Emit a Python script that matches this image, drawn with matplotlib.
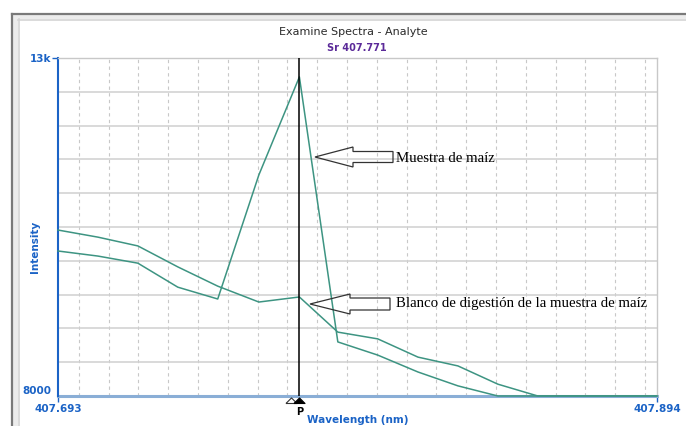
import matplotlib
matplotlib.use('Agg')
import matplotlib.pyplot as plt
import matplotlib.transforms as mtransforms
from matplotlib.patches import Polygon, Rectangle
from matplotlib.lines import Line2D
import numpy as np

# ---------------- data ----------------
wavelength = [407.6930, 407.7064, 407.7198, 407.7332, 407.7466, 407.7604, 407.7740, 407.7869,
              407.8003, 407.8138, 407.8272, 407.8406, 407.8540, 407.8674, 407.8808, 407.8940]
muestra = [10145, 10070, 9965, 9610, 9435, 11270, 12720, 8800,
           8605, 8355, 8150, 8000, 8000, 8000, 8000, 8000]
blanco = [10455, 10350, 10220, 9910, 9625, 9390, 9465, 8945,
          8845, 8575, 8445, 8175, 8000, 8000, 8000, 8000]
peak_wl = 407.7740
x_range = [407.693, 407.894]
x_tick_labels = ['407.693', '407.894']
y_range = [8000, 13000]
y_tick_labels = ['8000', '13k']
x_grid = np.arange(407.70, 407.895, 0.01)
y_grid = np.arange(8500, 13000, 500)

title = 'Examine Spectra - Analyte'
subtitle = 'Sr 407.771'
x_label = 'Wavelength (nm)'
y_label = 'Intensity'
note_sample = 'Muestra de maíz'
note_blank = 'Blanco de digestión de la muestra de maíz'

# ---------------- figure ----------------
W, H = 686, 426
fig = plt.figure(figsize=(W / 100, H / 100), dpi=100)
fig.patch.set_facecolor('white')

blue = '#1b63c6'
teal = '#3d9482'

# background / window frame (pixel coords)
bg = fig.add_axes([0, 0, 1, 1], zorder=0)
bg.set_xlim(0, W)
bg.set_ylim(H, 0)
bg.axis('off')
bg.add_patch(Rectangle((12, 14), W - 12, H - 14, facecolor='#ececec', edgecolor='none'))
bg.add_patch(Rectangle((18, 19), W - 18, H - 19, facecolor='white', edgecolor='none'))
bg.add_line(Line2D([12, W], [14, 14], color='#7a7a7a', lw=1.6))
bg.add_line(Line2D([12, 12], [14, H], color='#7a7a7a', lw=1.6))
bg.add_line(Line2D([18, W], [19.5, 19.5], color='#d4d4d4', lw=1.2))
bg.add_line(Line2D([18.5, 18.5], [19, H], color='#d4d4d4', lw=1.2))

bg.text(353, 32, title, ha='center', va='center', fontsize=8, color='#2a2a2a',
        family='DejaVu Sans')
bg.text(357, 48, subtitle, ha='center', va='center', fontsize=7, color='#5b2a99',
        fontweight='bold', family='DejaVu Sans')

# main axes
L, R, T, B = 58, 657, 58, 396
ax = fig.add_axes([L / W, 1 - B / H, (R - L) / W, (B - T) / H], zorder=1)
ax.set_facecolor('none')
ax.set_xlim(*x_range)
ax.set_ylim(*y_range)

for xv in x_grid:
    ax.axvline(xv, color='#c8c8c8', lw=0.8, ls=(0, (3, 3)), zorder=1)
for yv in y_grid:
    ax.axhline(yv, color='#d0d0d0', lw=1.1, zorder=1)

ax.plot(wavelength, blanco, color=teal, lw=1.1, zorder=3, clip_on=False)
ax.plot(wavelength, muestra, color=teal, lw=1.1, zorder=3, clip_on=False)
ax.axvline(peak_wl, color='black', lw=1.1, zorder=4)

for s in ['top', 'right']:
    ax.spines[s].set_color('#c8c8c8')
    ax.spines[s].set_linewidth(1.0)
ax.spines['left'].set_color(blue)
ax.spines['left'].set_linewidth(1.5)
ax.spines['bottom'].set_color('#8aaed6')
ax.spines['bottom'].set_linewidth(2.2)
ax.spines['bottom'].set_zorder(2)

ax.set_xticks(x_range, labels=x_tick_labels)
ax.set_yticks(y_range, labels=y_tick_labels)
ax.tick_params(axis='x', length=4, width=1, color=blue, pad=2, labelsize=7.5,
               labelcolor=blue)
ax.tick_params(axis='y', length=4, width=1, color=blue, pad=1, labelsize=7.5,
               labelcolor=blue)
for lab in ax.get_xticklabels() + ax.get_yticklabels():
    lab.set_fontweight('bold')
ax.yaxis.get_major_ticks()[0].tick1line.set_visible(False)
ax.get_yticklabels()[0].set_va('bottom')

ax.set_xlabel(x_label, fontsize=7.5, color=blue, fontweight='bold')
ax.xaxis.set_label_coords(0.5, -(420 - B) / (B - T))
ax.xaxis.label.set_va('center')
ax.set_ylabel(y_label, fontsize=7.5, color=blue, fontweight='bold')
ax.yaxis.set_label_coords(-(L - 35) / (R - L), (B - 247) / (B - T))
ax.yaxis.label.set_va('center')

# peak markers below the axis
trans = mtransforms.blended_transform_factory(ax.transData, ax.transAxes)
tri = [(-1, 0), (1, 0), (0, 1), (-1, 0)]
yb = -(403 - B) / (B - T)
ax.plot([peak_wl - 0.0027], [yb], marker=tri, ms=8, mfc='white', mec='#333333',
        mew=0.8, transform=trans, clip_on=False, zorder=5, ls='none')
ax.plot([peak_wl], [yb], marker=tri, ms=8, mfc='black', mec='black',
        mew=0.8, transform=trans, clip_on=False, zorder=6, ls='none')
ax.text(peak_wl, -(412 - B) / (B - T), 'P', transform=trans, ha='center',
        va='center', fontsize=7, fontweight='bold', color='black')

# overlay with annotation arrows
ov = fig.add_axes([0, 0, 1, 1], zorder=5)
ov.set_xlim(0, W)
ov.set_ylim(H, 0)
ov.axis('off')
ov.patch.set_visible(False)

def block_arrow(tip_x, tip_y, head_x, head_h, shaft_h, end_x):
    return [(tip_x, tip_y), (head_x, tip_y - head_h), (head_x, tip_y - shaft_h),
            (end_x, tip_y - shaft_h), (end_x, tip_y + shaft_h),
            (head_x, tip_y + shaft_h), (head_x, tip_y + head_h)]

ov.add_patch(Polygon(block_arrow(315, 157, 353, 10, 5.5, 393), closed=True,
                     fill=False, edgecolor='#333333', lw=0.9))
ov.add_patch(Polygon(block_arrow(310, 304, 350, 10, 6, 390), closed=True,
                     fill=False, edgecolor='#333333', lw=0.9))
ov.text(396, 158, note_sample, ha='left', va='center', fontsize=10.7,
        family='Liberation Serif', color='black')
ov.text(396, 304, note_blank, ha='left', va='center', fontsize=10.7,
        family='Liberation Serif', color='black')

fig.savefig('out.png', dpi=100)
